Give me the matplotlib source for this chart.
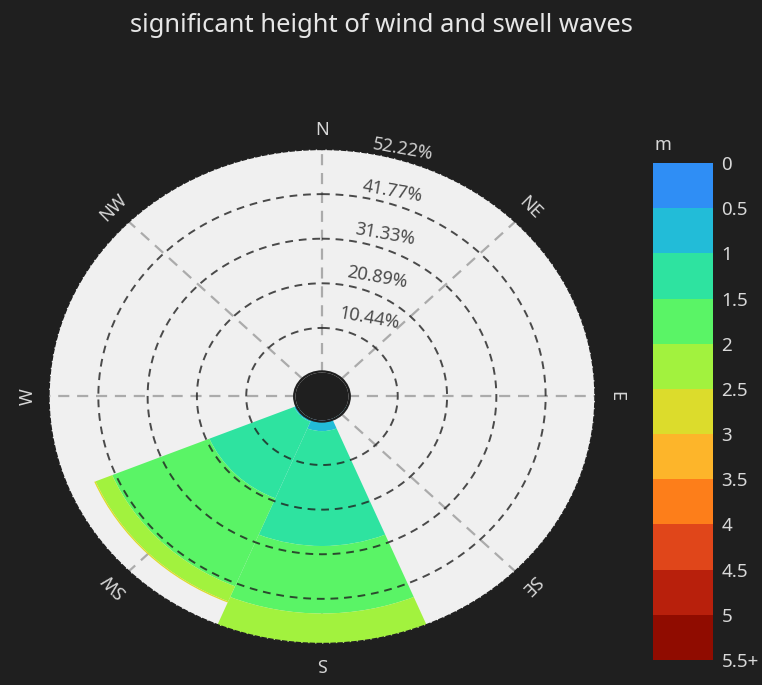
import numpy as np
import matplotlib
matplotlib.use('Agg')
import matplotlib.pyplot as plt
from matplotlib.colors import ListedColormap, BoundaryNorm
from matplotlib.cm import ScalarMappable
from matplotlib.patches import Ellipse

plt.rcParams['font.family'] = ['Noto Sans', 'DejaVu Sans']

# Data
directions = ['N', 'NE', 'E', 'SE', 'S', 'SW', 'W', 'NW']
dir_angles = [0, 45, 90, 135, 180, 225, 270, 315]
height_labels = ['0', '0.5', '1', '1.5', '2', '2.5', '3', '3.5', '4', '4.5', '5', '5.5+']
bin_colors = ['#2f8ef5', '#22bcd8', '#2ee3a0', '#5af466', '#a2f23e', '#dcdc2c',
              '#fdb52a', '#fd7e1a', '#e0461a', '#b8200c', '#900c00']

# frequency (%) per direction for each height bin (N, NE, E, SE, S, SW, W, NW)
f_00_05 = [0, 0, 0, 0, 0.3, 0, 0, 0]
f_05_10 = [0, 0, 0, 0.3, 2.2, 0.8, 0, 0]
f_10_15 = [0, 0, 0, 0, 26.9, 19.4, 0, 0]
f_15_20 = [0, 0, 0, 0, 15.8, 22.3, 0, 0]
f_20_25 = [0, 0, 0, 0, 7.02, 3.8, 0, 0]
f_25_30 = [0, 0, 0, 0, 0, 0.3, 0, 0]
f_30_35 = [0, 0, 0, 0, 0, 0, 0, 0]
f_35_40 = [0, 0, 0, 0, 0, 0, 0, 0]
f_40_45 = [0, 0, 0, 0, 0, 0, 0, 0]
f_45_50 = [0, 0, 0, 0, 0, 0, 0, 0]
f_50_55 = [0, 0, 0, 0, 0, 0, 0, 0]

ring_values = [10.44, 20.89, 31.33, 41.77, 52.22]

bins = [f_00_05, f_05_10, f_10_15, f_15_20, f_20_25, f_25_30,
        f_30_35, f_35_40, f_40_45, f_45_50, f_50_55]

bg = '#1f1f1f'
rect = [0.0643, 0.0606, 0.7165, 0.7212]


def setup_polar(a):
    a.set_aspect('auto')
    a.set_theta_zero_location('N')
    a.set_theta_direction(-1)
    a.set_ylim(0, ring_values[-1])
    a.set_rorigin(-5.61)
    a.set_xticks(np.deg2rad(dir_angles))
    a.set_xticklabels([])
    a.set_yticks(ring_values[:-1])
    a.set_yticklabels([])
    a.tick_params(length=0)
    a.spines['inner'].set_linewidth(0)


fig = plt.figure(figsize=(7.62, 6.85), dpi=100, facecolor=bg)

# bottom layer: disc, radial lines, bars
ax = fig.add_axes(rect, projection='polar')
ax.set_facecolor('#f0f0f0')
theta = np.deg2rad(dir_angles)
bottom = np.zeros(len(directions))
for vals, col in zip(bins, bin_colors):
    vals = np.array(vals, dtype=float)
    keep = vals > 0
    if keep.any():
        ax.bar(theta[keep], vals[keep], width=np.deg2rad(45), bottom=bottom[keep],
               color=col, linewidth=0)
    bottom = bottom + vals
setup_polar(ax)
ax.xaxis.grid(True, color='#ababab', linestyle=(0, (5, 3.5)), linewidth=1.6)
ax.yaxis.grid(False)
ax.set_axisbelow(True)
ax.spines['polar'].set_visible(False)

# top layer: dashed rings over the bars, hole, labels
ax2 = fig.add_axes(rect, projection='polar')
setup_polar(ax2)
ax2.patch.set_alpha(0)
ax2.grid(False)
circle = np.linspace(0, 2 * np.pi, 361)
for v in ring_values[:-1]:
    ax2.plot(circle, np.full_like(circle, v), color='#202020', alpha=0.8,
             linestyle=(0, (4, 3)), linewidth=1.4, zorder=4)
ax2.set_ylim(0, ring_values[-1])
ax2.set_rorigin(-5.61)
ax2.spines['polar'].set(color=bg, linestyle=(0, (3, 2)), linewidth=1.0)

ax2.add_patch(Ellipse((0.5, 0.5), 0.106, 0.106, transform=ax2.transAxes,
                      facecolor=bg, edgecolor='none', zorder=5))

# compass labels
for d, a in zip(directions, dir_angles):
    ax2.text(np.deg2rad(a), 56.8, d, rotation=-a, rotation_mode='anchor',
             ha='center', va='center', color='#d6d6d6', fontsize=13, clip_on=False)

# ring labels
label_angles = [29, 22.7, 19.3, 17.3, 16.5]
label_r = [15.3, 24.5, 34.6, 44.7, 54.7]
for v, a, r in zip(ring_values, label_angles, label_r):
    col = '#d0d0d0' if v == ring_values[-1] else '#4a4a4a'
    ax2.text(np.deg2rad(a), r, f'{v:.2f}%', rotation=-10, rotation_mode='anchor',
             ha='center', va='center', color=col, fontsize=13, clip_on=False, zorder=6)

fig.text(0.5, 1 - 26 / 685, 'significant height of wind and swell waves',
         ha='center', va='center', color='#e6e6e6', fontsize=18.4)

# colour scale
bounds = [float(b.rstrip('+')) for b in height_labels]
cmap = ListedColormap(bin_colors)
norm = BoundaryNorm(bounds, cmap.N)
cax = fig.add_axes([653 / 762, 25 / 685, 60 / 762, 497 / 685])
cb = fig.colorbar(ScalarMappable(norm=norm, cmap=cmap), cax=cax, ticks=bounds)
cb.ax.set_yticklabels(height_labels)
cax.invert_yaxis()
cb.outline.set_visible(False)
cax.tick_params(length=0, pad=6, labelsize=13.5, labelcolor='#d8d8d8')
cax.text(0.03, 1.036, 'm', transform=cax.transAxes, ha='left', va='center',
         color='#d8d8d8', fontsize=13)

fig.savefig('out.png', dpi=100, facecolor=fig.get_facecolor())
